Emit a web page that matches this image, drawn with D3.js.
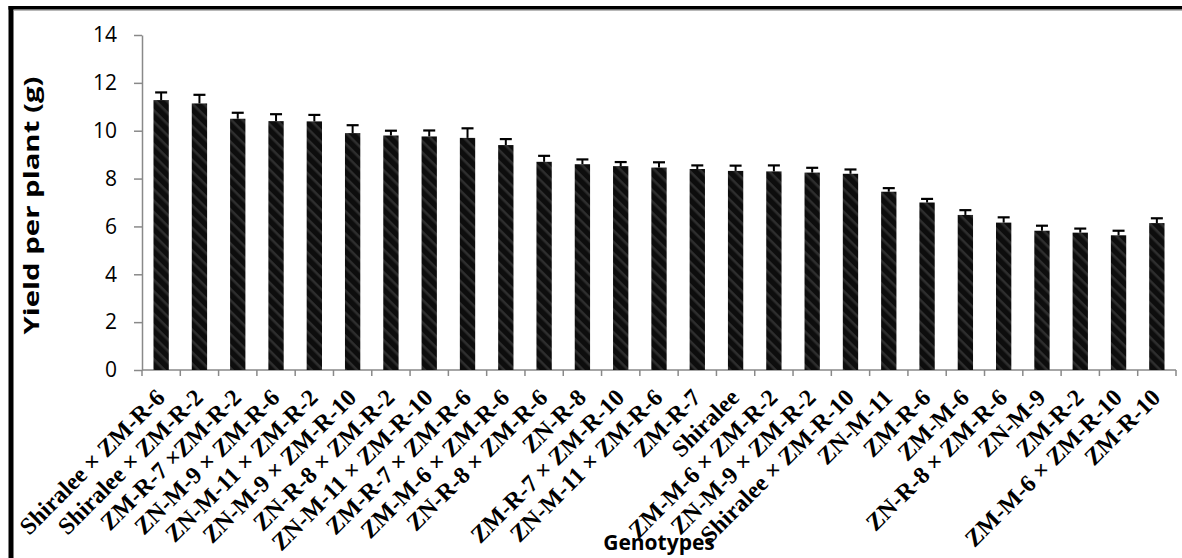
<!DOCTYPE html>
<html lang="en">
<head>
    <meta charset="UTF-8">
    <title>Yield per plant by genotype</title>
    <style>
        body{
            margin: 0;
            overflow: hidden;
            background: #fff;
        }
    </style>
</head>
<body>
    <script src="https://cdnjs.cloudflare.com/ajax/libs/d3/7.8.2/d3.min.js"></script>
    <script>

const genotypes = [
  'Shiralee × ZM-R-6', 'Shiralee × ZM-R-2', 'ZM-R-7 ×ZM-R-2', 'ZN-M-9 × ZM-R-6',
  'ZN-M-11 × ZM-R-2', 'ZN-M-9 × ZM-R-10', 'ZN-R-8 × ZM-R-2', 'ZN-M-11 × ZM-R-10',
  'ZM-R-7 × ZM-R-6', 'ZM-M-6 × ZM-R-6', 'ZN-R-8 × ZM-R-6', 'ZN-R-8',
  'ZM-R-7 × ZM-R-10', 'ZN-M-11 × ZM-R-6', 'ZM-R-7', 'Shiralee',
  'ZM-M-6 × ZM-R-2', 'ZN-M-9 × ZM-R-2', 'Shiralee × ZM-R-10', 'ZN-M-11',
  'ZM-R-6', 'ZM-M-6', 'ZN-R-8 × ZM-R-6', 'ZN-M-9',
  'ZM-R-2', 'ZM-M-6 × ZM-R-10', 'ZM-R-10'
]
const yieldPerPlant = [
  11.28, 11.14, 10.5, 10.4, 10.39, 9.9, 9.8, 9.76, 9.7, 9.4,
  8.7, 8.6, 8.52, 8.46, 8.4, 8.32, 8.3, 8.25, 8.2, 7.45,
  7.0, 6.48, 6.16, 5.82, 5.74, 5.63, 6.14
]
const stdErr = [
  0.32, 0.36, 0.25, 0.29, 0.27, 0.33, 0.2, 0.25, 0.4, 0.25,
  0.25, 0.2, 0.17, 0.22, 0.15, 0.22, 0.25, 0.2, 0.18, 0.15,
  0.15, 0.2, 0.22, 0.21, 0.17, 0.19, 0.2
]
const yTicks = [0, 2, 4, 6, 8, 10, 12, 14]

const W = 1182, H = 558
const plotL = 142, plotR = 1176, plotT = 35, plotB = 370
const axisGrey = '#898989'

const data = genotypes.map((g, i) => ({ i, g, v: yieldPerPlant[i], e: stdErr[i] }))

const svg = d3.select('body')
  .append('svg')
  .attr('width', W)
  .attr('height', H)

// diagonal hatch fill of the bars
const defs = svg.append('defs')
const pat = defs.append('pattern')
  .attr('id', 'hatch')
  .attr('patternUnits', 'userSpaceOnUse')
  .attr('width', 8)
  .attr('height', 8)
  .attr('patternTransform', 'rotate(45)')
pat.append('rect').attr('width', 8).attr('height', 8).attr('fill', '#0d0d0d')
pat.append('rect').attr('width', 8).attr('height', 2.5).attr('fill', '#2e2e2e')

// frame
svg.append('rect').attr('x', 8.5).attr('y', 6).attr('width', 5).attr('height', H).attr('fill', '#000')
svg.append('rect').attr('x', 8.5).attr('y', 6).attr('width', W).attr('height', 3.6).attr('fill', '#000')
svg.append('line').attr('x1', 13.5).attr('x2', W).attr('y1', 10.2).attr('y2', 10.2)
  .attr('stroke', '#999').attr('stroke-width', 1)

const x = d3.scaleBand()
  .domain(d3.range(genotypes.length))
  .range([plotL, plotR])
  .paddingInner(0.6)
  .paddingOuter(0.3)

const y = d3.scaleLinear()
  .domain([0, 14])
  .range([plotB, plotT])

// y axis
const yAxis = svg.append('g')
  .attr('transform', `translate(${plotL},0)`)
  .call(d3.axisLeft(y).tickValues(yTicks).tickSizeInner(8).tickSizeOuter(0).tickPadding(17))
yAxis.select('.domain').attr('stroke', axisGrey).attr('stroke-width', 1.5)
yAxis.selectAll('.tick line').attr('stroke', axisGrey).attr('stroke-width', 1.5)
yAxis.selectAll('.tick text')
  .attr('fill', '#000')
  .style('font-family', '"Open Sans", sans-serif')
  .style('font-size', '21px')

// x axis line with ticks at category boundaries
const step = x.step()
const xStart = x(0) - x.paddingOuter() * step
svg.append('line')
  .attr('x1', plotL).attr('x2', plotR)
  .attr('y1', plotB).attr('y2', plotB)
  .attr('stroke', axisGrey).attr('stroke-width', 1.5)
svg.append('g')
  .selectAll('line')
  .data(d3.range(genotypes.length + 1))
  .join('line')
  .attr('x1', d => xStart + d * step)
  .attr('x2', d => xStart + d * step)
  .attr('y1', plotB)
  .attr('y2', plotB + 6)
  .attr('stroke', axisGrey)
  .attr('stroke-width', 1.5)

// bars
svg.append('g')
  .selectAll('rect')
  .data(data)
  .join('rect')
  .attr('x', d => x(d.i))
  .attr('y', d => y(d.v))
  .attr('width', x.bandwidth())
  .attr('height', d => y(0) - y(d.v))
  .attr('fill', 'url(#hatch)')

// error bars
const eb = svg.append('g')
  .selectAll('g')
  .data(data)
  .join('g')
  .attr('transform', d => `translate(${x(d.i) + x.bandwidth() / 2},0)`)
eb.append('line')
  .attr('y1', d => y(d.v))
  .attr('y2', d => y(d.v + d.e))
  .attr('stroke', '#000')
  .attr('stroke-width', 2)
eb.append('line')
  .attr('x1', -6).attr('x2', 6)
  .attr('y1', d => y(d.v + d.e))
  .attr('y2', d => y(d.v + d.e))
  .attr('stroke', '#000')
  .attr('stroke-width', 2.2)

// category labels
svg.append('g')
  .selectAll('text')
  .data(data)
  .join('text')
  .attr('transform', d => `translate(${x(d.i) + x.bandwidth() / 2 + 5},399) rotate(-45)`)
  .attr('text-anchor', 'end')
  .style('font-family', '"Liberation Serif", "Times New Roman", serif')
  .style('font-weight', 'bold')
  .style('font-size', '24px')
  .text(d => d.g)

// axis titles
svg.append('text')
  .attr('transform', `translate(39,${(plotT + plotB) / 2 + 3}) rotate(-90)`)
  .attr('text-anchor', 'middle')
  .attr('textLength', 258)
  .attr('lengthAdjust', 'spacingAndGlyphs')
  .style('font-family', '"Open Sans", sans-serif')
  .style('font-weight', 'bold')
  .style('font-size', '21px')
  .text('Yield per plant (g)')

svg.append('text')
  .attr('x', (plotL + plotR) / 2)
  .attr('y', 550)
  .attr('text-anchor', 'middle')
  .style('font-family', '"Open Sans", sans-serif')
  .style('font-weight', 'bold')
  .style('font-size', '21px')
  .text('Genotypes')

    </script>
</body>
</html>
